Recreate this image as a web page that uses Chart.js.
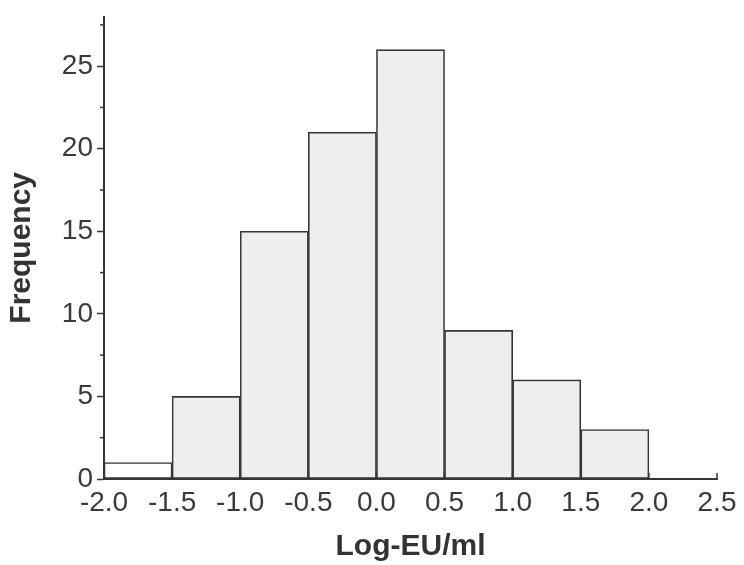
<!DOCTYPE html>
<html>
<head>
<meta charset="utf-8">
<script src="https://cdn.jsdelivr.net/npm/chart.js@4/dist/chart.umd.min.js"></script>
<style>
  html, body { margin: 0; padding: 0; background: #fff; }
  #wrap { width: 744px; height: 565px; }
</style>
</head>
<body>
<div id="wrap"><canvas id="hist"></canvas></div>
<script>
// histogram bins (Log-EU/ml) and counts
const binEdges = [-2.0, -1.5, -1.0, -0.5, 0.0, 0.5, 1.0, 1.5, 2.0];
const freq = [1, 5, 15, 21, 26, 9, 6, 3];
const xTicks = [-2.0, -1.5, -1.0, -0.5, 0.0, 0.5, 1.0, 1.5, 2.0, 2.5];
const yTicks = [0, 5, 10, 15, 20, 25];
const yMinorTicks = [2.5, 7.5, 12.5, 17.5, 22.5, 27.5];

const INK = "#363636";
const FONT = "'Liberation Sans', Arial, sans-serif";

const points = freq.map((f, i) => ({ x: (binEdges[i] + binEdges[i + 1]) / 2, y: f }));

// small ticks: x ticks point inward, y minor ticks outward
const extraTicks = {
  id: "extraTicks",
  afterDraw(chart) {
    const { ctx, scales: { x, y }, chartArea } = chart;
    ctx.save();
    ctx.strokeStyle = INK;
    ctx.lineWidth = 1.5;
    xTicks.forEach((v) => {
      const px = x.getPixelForValue(v);
      ctx.beginPath();
      ctx.moveTo(px, chartArea.bottom);
      ctx.lineTo(px, chartArea.bottom - 6);
      ctx.stroke();
    });
    yMinorTicks.forEach((v) => {
      const py = y.getPixelForValue(v);
      ctx.beginPath();
      ctx.moveTo(chartArea.left - 4, py);
      ctx.lineTo(chartArea.left, py);
      ctx.stroke();
    });
    ctx.restore();
  },
};

new Chart(document.getElementById("hist"), {
  type: "bar",
  data: {
    datasets: [{
      data: points,
      backgroundColor: freq.map((_, i) => (i === 0 ? "#ffffff" : "#eeeeee")),
      borderColor: INK,
      borderWidth: 1.6,
      borderSkipped: false,
      barPercentage: 1,
      categoryPercentage: 1,
      grouped: false,
    }],
  },
  options: {
    responsive: true,
    maintainAspectRatio: false,
    animation: false,
    layout: { padding: { top: 15, right: 27, left: 0, bottom: 0 } },
    plugins: { legend: { display: false }, tooltip: { enabled: false } },
    scales: {
      x: {
        type: "linear",
        offset: false,
        min: -2.0,
        max: 2.5,
        afterBuildTicks: (s) => { s.ticks = xTicks.map((v) => ({ value: v })); },
        afterFit: (s) => { s.height = 86; },
        ticks: {
          color: "#3a3a3a",
          font: { family: FONT, size: 28 },
          padding: 7,
          maxRotation: 0,
          autoSkip: false,
          callback: (v) => Number(v).toFixed(1),
        },
        grid: { offset: false, drawOnChartArea: false, drawTicks: false },
        border: { color: INK, width: 2 },
        title: {
          display: true,
          text: "Log-EU/ml",
          color: "#333",
          font: { family: FONT, size: 30, weight: "bold" },
          padding: { top: 0, bottom: 0 },
        },
      },
      y: {
        min: 0,
        max: 28,
        afterBuildTicks: (s) => { s.ticks = yTicks.map((v) => ({ value: v })); },
        afterFit: (s) => { s.width = 104; },
        ticks: {
          color: "#3a3a3a",
          font: { family: FONT, size: 28, lineHeight: 0.9 },
          padding: 4,
        },
        grid: { drawOnChartArea: false, tickLength: 7, color: INK, tickWidth: 1.5 },
        border: { color: INK, width: 2 },
        title: {
          display: true,
          text: "Frequency",
          color: "#333",
          font: { family: FONT, size: 30, weight: "bold" },
          padding: { top: 4, bottom: 0 },
        },
      },
    },
  },
  plugins: [extraTicks],
});
</script>
</body>
</html>
